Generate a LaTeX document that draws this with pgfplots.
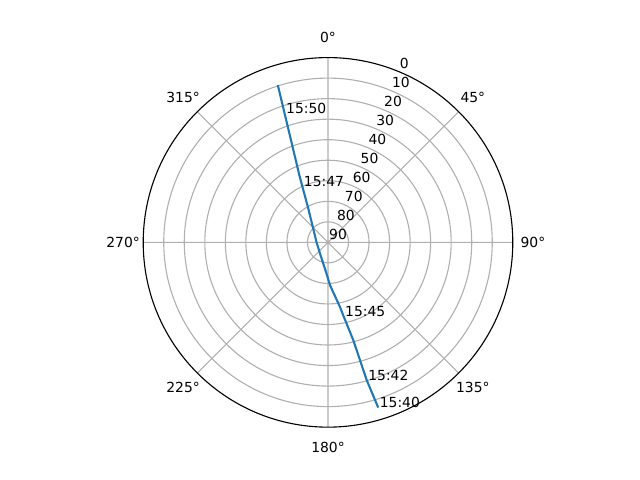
\documentclass[border=0pt]{standalone}
\usepackage{fontspec}
\setmainfont{DejaVu Sans}
\usepackage{pgfplots}
\pgfplotsset{compat=1.18}
\usepgfplotslibrary{polar}
\definecolor{mplblue}{HTML}{1F77B4}
\definecolor{mplgrid}{HTML}{B0B0B0}

\begin{document}
\begin{tikzpicture}[font=\fontsize{10}{12}\selectfont]
\begin{polaraxis}[
  scale only axis, width=266.1pt, height=266.1pt,
  xmin=0, xmax=360, ymin=0, ymax=90,
  xtick={0,45,...,315}, xticklabels={,,,,,,,},
  ytick={10,20,...,80}, yticklabels={,,,,,,,},
  grid=major,
  major grid style={mplgrid, line width=0.8pt},
  major tick length=0pt,
  x axis line style={black, line width=0.8pt},
  y axis line style={draw=none},
  clip=false,
]
% pass track: (math angle, 90 - elevation)
\addplot[mplblue, line width=1.5pt] coordinates {
(286.9,84.1) (285.7,69.7) (284.5,49.2) (281.9,36.7) (280.5,32.0)
(272.7,20.9) (267.2,15.2) (239.6,7.2) (179.0,5.6) (120.2,19.1)
(114.6,30.1) (113.1,35.6) (110.0,52.1) (108.6,66.4) (107.7,80.4)
};
\coordinate (c) at (axis cs:0,0);

% time labels
\node[anchor=base west, inner sep=0pt, xshift=1pt] at (axis cs:286.9,84.1) {15:40};
\node[anchor=base west, inner sep=0pt, xshift=1pt] at (axis cs:285.7,69.7) {15:42};
\node[anchor=base west, inner sep=0pt, xshift=1pt] at (axis cs:281.9,36.7) {15:45};
\node[anchor=base west, inner sep=0pt, xshift=1pt] at (axis cs:114.6,30.1) {15:47};
\node[anchor=base west, inner sep=0pt, xshift=1pt] at (axis cs:108.6,66.4) {15:50};

% azimuth labels, 0 at top, clockwise
\node at (axis cs:90,99.8) {0°};
\node at (axis cs:45,99.8) {45°};
\node at (axis cs:0,99.8) {90°};
\node at (axis cs:315,99.8) {135°};
\node at (axis cs:270,99.8) {180°};
\node at (axis cs:225,99.8) {225°};
\node at (axis cs:180,99.8) {270°};
\node at (axis cs:135,99.8) {315°};

% elevation labels
\node[anchor=base west, inner sep=0pt, xshift=0.7pt, yshift=2.4pt] at (axis cs:67.5,0) {90};
\node[anchor=base west, inner sep=0pt, xshift=0.7pt, yshift=2.4pt] at (axis cs:67.5,10) {80};
\node[anchor=base west, inner sep=0pt, xshift=0.7pt, yshift=2.4pt] at (axis cs:67.5,20) {70};
\node[anchor=base west, inner sep=0pt, xshift=0.7pt, yshift=2.4pt] at (axis cs:67.5,30) {60};
\node[anchor=base west, inner sep=0pt, xshift=0.7pt, yshift=2.4pt] at (axis cs:67.5,40) {50};
\node[anchor=base west, inner sep=0pt, xshift=0.7pt, yshift=2.4pt] at (axis cs:67.5,50) {40};
\node[anchor=base west, inner sep=0pt, xshift=0.7pt, yshift=2.4pt] at (axis cs:67.5,60) {30};
\node[anchor=base west, inner sep=0pt, xshift=0.7pt, yshift=2.4pt] at (axis cs:67.5,70) {20};
\node[anchor=base west, inner sep=0pt, xshift=0.7pt, yshift=2.4pt] at (axis cs:67.5,80) {10};
\node[anchor=base west, inner sep=0pt, xshift=0.7pt, yshift=2.4pt] at (axis cs:67.5,90) {0};
\end{polaraxis}
\useasboundingbox ([shift={(-236.16pt,-171.1pt)}]c) rectangle ([shift={(224.64pt,174.5pt)}]c);
\end{tikzpicture}
\end{document}
